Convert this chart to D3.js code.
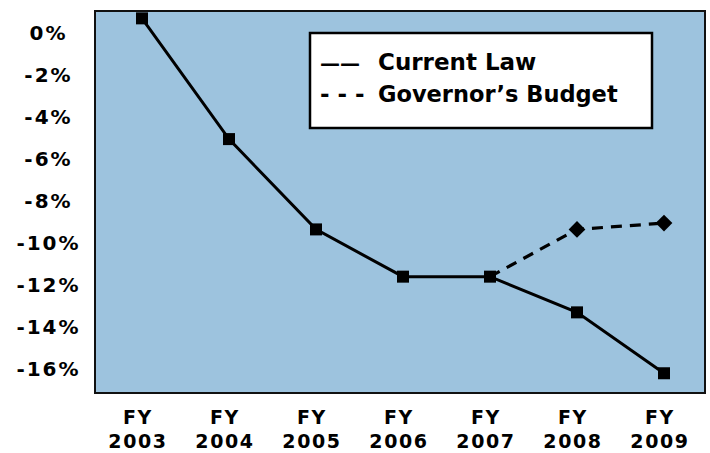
<!DOCTYPE html>
<html>
<head>
<meta charset="utf-8">
<script src="https://cdn.jsdelivr.net/npm/d3@7"></script>
<style>
  body { margin: 0; background: #fff; }
  text { font-family: "DejaVu Sans", Verdana, sans-serif; font-weight: bold; fill: #000; }
</style>
</head>
<body>
<div class="chart"></div>
<script>
// chart data
var years = ["2003", "2004", "2005", "2006", "2007", "2008", "2009"];
var currentLaw = [0.7, -5.05, -9.35, -11.6, -11.6, -13.3, -16.2];
var govYears = ["2007", "2008", "2009"];
var govBudget = [-11.6, -9.35, -9.05];
var yTicks = [0, -2, -4, -6, -8, -10, -12, -14, -16];

// set up svg
var svgWidth = 710;
var svgHeight = 453;
var plot = { left: 95, right: 705, top: 11, bottom: 393 };

var svg = d3.select(".chart")
    .append("svg")
    .attr("width", svgWidth)
    .attr("height", svgHeight);

// scales
var xScale = d3.scalePoint()
    .domain(years)
    .range([142, 664]);

var yScale = d3.scaleLinear()
    .domain([-17.14, 1.05])
    .range([plot.bottom, plot.top]);

// plot area
svg.append("rect")
    .attr("x", plot.left)
    .attr("y", plot.top)
    .attr("width", plot.right - plot.left)
    .attr("height", plot.bottom - plot.top)
    .attr("fill", "#9dc3de")
    .attr("stroke", "#111")
    .attr("stroke-width", 2);

// y axis labels (no ticks)
svg.append("g").selectAll("text")
    .data(yTicks)
    .enter()
    .append("text")
    .attr("x", 48.5)
    .attr("y", d => yScale(d))
    .attr("dy", "0.36em")
    .attr("text-anchor", "middle")
    .style("font-size", "20px")
    .style("letter-spacing", "2px")
    .text(d => d + "%");

// x axis labels, two lines each
var xLab = svg.append("g").selectAll("g")
    .data(years)
    .enter()
    .append("g")
    .style("font-size", "19px")
    .style("letter-spacing", "1.6px");
xLab.append("text")
    .attr("x", d => xScale(d) - 4)
    .attr("y", 424)
    .attr("text-anchor", "middle")
    .text("FY");
xLab.append("text")
    .attr("x", d => xScale(d) - 4)
    .attr("y", 448)
    .attr("text-anchor", "middle")
    .text(d => d);

// lines
var line = d3.line()
    .x(d => xScale(d.year))
    .y(d => yScale(d.value));

var curData = years.map((y, i) => ({ year: y, value: currentLaw[i] }));
var govData = govYears.map((y, i) => ({ year: y, value: govBudget[i] }));

svg.append("path")
    .datum(govData)
    .attr("d", line)
    .attr("fill", "none")
    .attr("stroke", "#000")
    .attr("stroke-width", 3.2)
    .attr("stroke-dasharray", "11,8");

svg.append("path")
    .datum(curData)
    .attr("d", line)
    .attr("fill", "none")
    .attr("stroke", "#000")
    .attr("stroke-width", 3);

// markers
svg.append("g").selectAll("rect")
    .data(curData)
    .enter()
    .append("rect")
    .attr("x", d => xScale(d.year) - 6)
    .attr("y", d => yScale(d.value) - 6)
    .attr("width", 12)
    .attr("height", 12)
    .attr("fill", "#000");

svg.append("g").selectAll("path")
    .data(govData.slice(1))
    .enter()
    .append("path")
    .attr("transform", d => `translate(${xScale(d.year)},${yScale(d.value)}) rotate(45)`)
    .attr("d", d3.symbol().type(d3.symbolSquare).size(140))
    .attr("fill", "#000");

// legend
var legend = svg.append("g");
legend.append("rect")
    .attr("x", 310)
    .attr("y", 33)
    .attr("width", 342)
    .attr("height", 95)
    .attr("fill", "#fff")
    .attr("stroke", "#000")
    .attr("stroke-width", 2.5);
legend.append("text")
    .attr("x", 320).attr("y", 70)
    .style("font-size", "20px")
    .text("——");
legend.append("text")
    .attr("x", 378).attr("y", 70)
    .style("font-size", "23px")
    .text("Current Law");
legend.append("text")
    .attr("x", 320).attr("y", 102)
    .style("font-size", "23px")
    .text("- - -");
legend.append("text")
    .attr("x", 378).attr("y", 102)
    .style("font-size", "22.5px")
    .text("Governor’s Budget");
</script>
</body>
</html>
